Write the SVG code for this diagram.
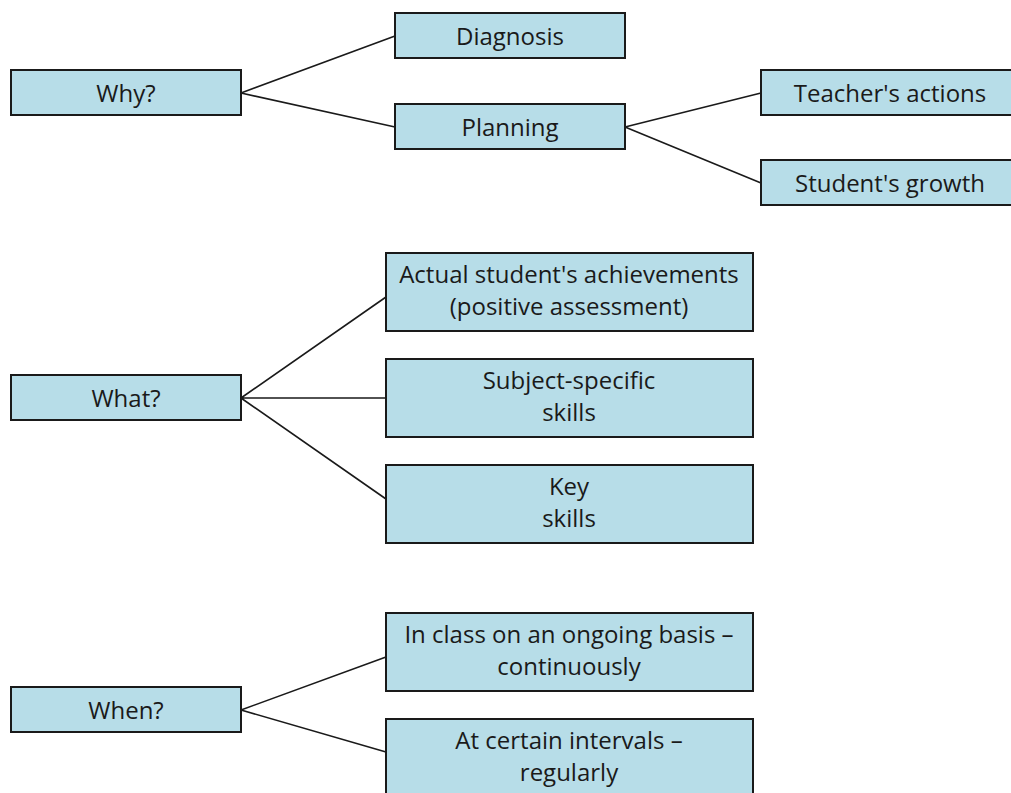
<svg xmlns="http://www.w3.org/2000/svg" width="1011" height="793" viewBox="0 0 1011 793">
<style>
.box{fill:#b7dde8;stroke:#1a1a1a;stroke-width:2}
.t{font-family:"Open Sans","Liberation Sans",sans-serif;font-size:24px;fill:#1a1a1a;text-anchor:middle}
.c{stroke:#1a1a1a;stroke-width:1.6;fill:none}
</style>
<rect width="1011" height="793" fill="#fff"/>
<g id="connectors">
<path class="c" d="M241 93L395 36M241 93L395 127M625 127L761 93M625 127L761 183"/>
<path class="c" d="M241 398L386 297M241 398L386 398M241 398L386 499"/>
<path class="c" d="M241 710L386 657M241 710L386 752"/>
</g>
<g id="why"><rect class="box" x="11" y="70" width="230" height="45"/><text class="t" x="126" y="102">Why?</text></g>
<g id="diagnosis"><rect class="box" x="395" y="13" width="230" height="45"/><text class="t" x="510" y="45">Diagnosis</text></g>
<g id="planning"><rect class="box" x="395" y="104" width="230" height="45"/><text class="t" x="510" y="136">Planning</text></g>
<g id="teacher"><rect class="box" x="761" y="70" width="260" height="45"/><text class="t" x="890" y="102">Teacher's actions</text></g>
<g id="student"><rect class="box" x="761" y="160" width="260" height="45"/><text class="t" x="890" y="192">Student's growth</text></g>
<g id="what"><rect class="box" x="11" y="375" width="230" height="45"/><text class="t" x="126" y="407">What?</text></g>
<g id="actual"><rect class="box" x="386" y="253" width="367" height="78"/><text class="t" x="569" y="283">Actual student's achievements</text><text class="t" x="569" y="315">(positive assessment)</text></g>
<g id="subject"><rect class="box" x="386" y="359" width="367" height="78"/><text class="t" x="569" y="389">Subject-specific</text><text class="t" x="569" y="421">skills</text></g>
<g id="key"><rect class="box" x="386" y="465" width="367" height="78"/><text class="t" x="569" y="495">Key</text><text class="t" x="569" y="527">skills</text></g>
<g id="when"><rect class="box" x="11" y="687" width="230" height="45"/><text class="t" x="126" y="719">When?</text></g>
<g id="inclass"><rect class="box" x="386" y="613" width="367" height="78"/><text class="t" x="569" y="643">In class on an ongoing basis –</text><text class="t" x="569" y="675">continuously</text></g>
<g id="intervals"><rect class="box" x="386" y="719" width="367" height="80"/><text class="t" x="569" y="749">At certain intervals –</text><text class="t" x="569" y="781">regularly</text></g>
</svg>
